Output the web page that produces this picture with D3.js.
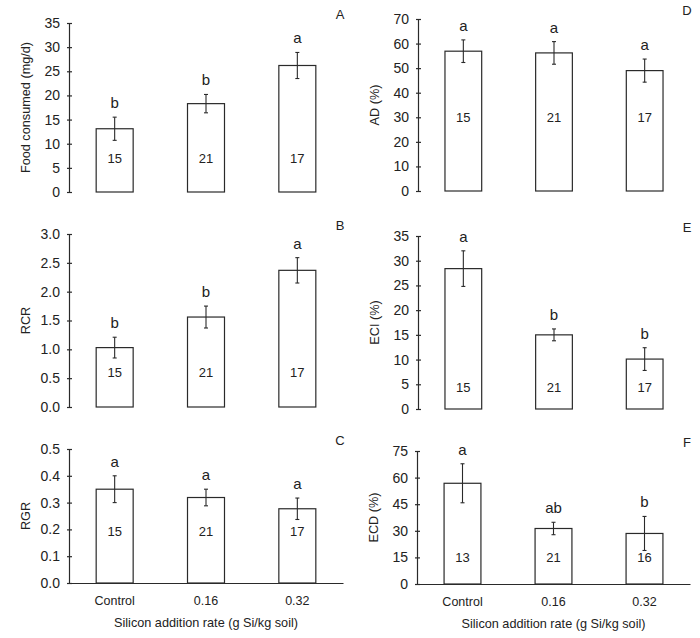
<!DOCTYPE html>
<html><head><meta charset="utf-8">
<script src="https://cdn.jsdelivr.net/npm/d3@7"></script>
<style>body{margin:0;background:#fff}svg{display:block}text{font-family:"Liberation Sans",Arial,sans-serif;fill:#222}</style>
</head><body><svg id="c" width="700" height="638"></svg>
<script>
const categories = ["Control", "0.16", "0.32"];
const xTitle = "Silicon addition rate (g Si/kg soil)";

const foodMean = [13.1, 18.3, 26.2];
const foodErr = [2.4, 1.9, 2.7];
const foodLetters = ["b", "b", "a"];
const foodN = [15, 21, 17];
const foodTicks = [0, 5, 10, 15, 20, 25, 30, 35];

const rcrMean = [1.03, 1.56, 2.37];
const rcrErr = [0.18, 0.19, 0.22];
const rcrLetters = ["b", "b", "a"];
const rcrN = [15, 21, 17];
const rcrTicks = [0, 0.5, 1.0, 1.5, 2.0, 2.5, 3.0];

const rgrMean = [0.35, 0.319, 0.277];
const rgrErr = [0.05, 0.031, 0.04];
const rgrLetters = ["a", "a", "a"];
const rgrN = [15, 21, 17];
const rgrTicks = [0, 0.1, 0.2, 0.3, 0.4, 0.5];

const adMean = [56.9, 56.2, 49.0];
const adErr = [4.6, 4.6, 4.7];
const adLetters = ["a", "a", "a"];
const adN = [15, 21, 17];
const adTicks = [0, 10, 20, 30, 40, 50, 60, 70];

const eciMean = [28.4, 15.0, 10.1];
const eciErr = [3.6, 1.2, 2.3];
const eciLetters = ["a", "b", "b"];
const eciN = [15, 21, 17];
const eciTicks = [0, 5, 10, 15, 20, 25, 30, 35];

const ecdMean = [56.8, 31.3, 28.5];
const ecdErr = [11.0, 3.5, 9.6];
const ecdLetters = ["a", "ab", "b"];
const ecdN = [13, 21, 16];
const ecdTicks = [0, 15, 30, 45, 60, 75];

const panels = [
  {id:"A", title:"Food consumed (mg/d)", mean:foodMean, err:foodErr, letters:foodLetters, n:foodN, ticks:foodTicks, fmt:d3.format("d"), nAt:7.0,
   x0:69, x1:343, y0:192, y1:23, xAxis:false},
  {id:"B", title:"RCR", mean:rcrMean, err:rcrErr, letters:rcrLetters, n:rcrN, ticks:rcrTicks, fmt:d3.format(".1f"), nAt:0.59,
   x0:69, x1:343, y0:407, y1:234, xAxis:false},
  {id:"C", title:"RGR", mean:rgrMean, err:rgrErr, letters:rgrLetters, n:rgrN, ticks:rgrTicks, fmt:d3.format(".1f"), nAt:0.194,
   x0:69, x1:343, y0:583, y1:449, xAxis:true},
  {id:"D", title:"AD (%)", mean:adMean, err:adErr, letters:adLetters, n:adN, ticks:adTicks, fmt:d3.format("d"), nAt:30.1,
   x0:418, x1:690, y0:191, y1:19, xAxis:false},
  {id:"E", title:"ECI (%)", mean:eciMean, err:eciErr, letters:eciLetters, n:eciN, ticks:eciTicks, fmt:d3.format("d"), nAt:4.3,
   x0:418, x1:690, y0:409, y1:236, xAxis:false},
  {id:"F", title:"ECD (%)", mean:ecdMean, err:ecdErr, letters:ecdLetters, n:ecdN, ticks:ecdTicks, fmt:d3.format("d"), nAt:14.7,
   x0:417, x1:690, y0:584, y1:451, xAxis:true}
];

const svg = d3.select("#c");
const ink = "#2a2a2a";

panels.forEach(p => {
  const g = svg.append("g");
  const x = d3.scaleBand().domain(categories).range([p.x0, p.x1]).paddingInner(0.595).paddingOuter(0.2975);
  const y = d3.scaleLinear().domain([0, d3.max(p.ticks)]).range([p.y0, p.y1]);
  const data = categories.map((c,i) => ({c, m:p.mean[i], e:p.err[i], l:p.letters[i], n:p.n[i]}));

  // y axis
  const ya = d3.axisLeft(y).tickValues(p.ticks).tickFormat(p.fmt).tickSize(0).tickPadding(9);
  const ag = g.append("g").attr("transform", `translate(${p.x0},0)`).call(ya);
  ag.select(".domain").attr("stroke", ink).attr("stroke-width", 1.2);
  ag.selectAll(".tick text").attr("font-size", 14).attr("fill", "#222").attr("font-family", "Liberation Sans, Arial, sans-serif");
  ag.selectAll(".tick").append("line").attr("x1", -2).attr("x2", 3).attr("stroke", ink).attr("stroke-width", 1.2);

  // bars
  g.selectAll("rect.bar").data(data).join("rect").attr("class","bar")
    .attr("x", d => x(d.c)).attr("width", x.bandwidth())
    .attr("y", d => y(d.m)).attr("height", d => y(0) - y(d.m))
    .attr("fill", "#fff").attr("stroke", ink).attr("stroke-width", 1.2);

  // error bars
  const eg = g.selectAll("g.err").data(data).join("g").attr("class","err");
  eg.append("line").attr("x1", d => x(d.c)+x.bandwidth()/2).attr("x2", d => x(d.c)+x.bandwidth()/2)
    .attr("y1", d => y(d.m+d.e)).attr("y2", d => y(d.m-d.e)).attr("stroke", ink).attr("stroke-width", 1.1);
  eg.append("line").attr("x1", d => x(d.c)+x.bandwidth()/2-2).attr("x2", d => x(d.c)+x.bandwidth()/2+2)
    .attr("y1", d => y(d.m+d.e)).attr("y2", d => y(d.m+d.e)).attr("stroke", ink).attr("stroke-width", 1.1);
  eg.append("line").attr("x1", d => x(d.c)+x.bandwidth()/2-2).attr("x2", d => x(d.c)+x.bandwidth()/2+2)
    .attr("y1", d => y(d.m-d.e)).attr("y2", d => y(d.m-d.e)).attr("stroke", ink).attr("stroke-width", 1.1);

  // significance letters
  g.selectAll("text.let").data(data).join("text").attr("class","let")
    .attr("x", d => x(d.c)+x.bandwidth()/2).attr("y", d => y(d.m+d.e) - 9)
    .attr("text-anchor","middle").attr("font-size", 15).text(d => d.l);

  // n labels
  g.selectAll("text.n").data(data).join("text").attr("class","n")
    .attr("x", d => x(d.c)+x.bandwidth()/2).attr("y", y(p.nAt) + 4.5)
    .attr("text-anchor","middle").attr("font-size", 13).text(d => d.n);

  // y title
  g.append("text").attr("transform", `translate(${p.x0-39},${(p.y0+p.y1)/2}) rotate(-90)`)
    .attr("text-anchor","middle").attr("font-size", 12.7).text(p.title);

  // panel letter
  g.append("text").attr("x", p.x1 - 3).attr("y", p.y1 - 4).attr("text-anchor","middle").attr("font-size", 13).text(p.id);

  if (p.xAxis) {
    const xa = d3.axisBottom(x).tickSize(0).tickPadding(13).tickSizeOuter(0);
    const xg = g.append("g").attr("transform", `translate(0,${p.y0})`).call(xa);
    xg.select(".domain").attr("stroke", ink).attr("stroke-width", 1.2);
    xg.selectAll(".tick text").attr("font-size", 12.5).attr("fill", "#222").attr("font-family", "Liberation Sans, Arial, sans-serif");
    g.append("text").attr("x", (p.x0 + p.x1)/2).attr("y", p.y0 + 44).attr("text-anchor","middle").attr("font-size", 12.7).text(xTitle);
  }
});
</script></body></html>
